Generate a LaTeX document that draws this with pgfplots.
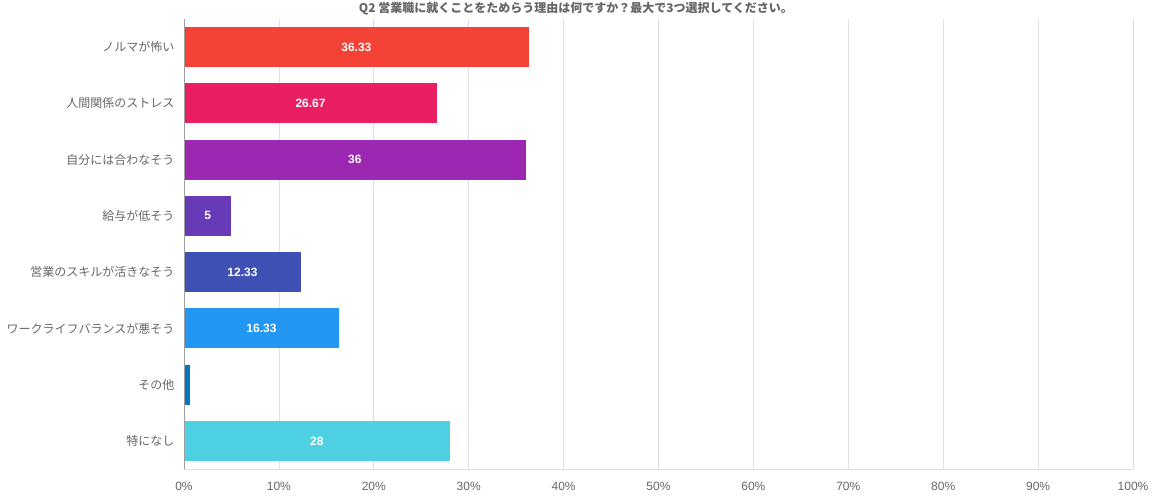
\documentclass[border=0pt]{standalone}
\usepackage{pgfplots}
\pgfplotsset{compat=1.18}
\usepackage{pgfplotstable}
\usepackage{fontspec}
\setmainfont{Liberation Sans}
\newfontfamily\jp{Noto Sans CJK JP}
\definecolor{c1}{HTML}{F44336}
\definecolor{c2}{HTML}{E91E63}
\definecolor{c3}{HTML}{9C27B0}
\definecolor{c4}{HTML}{673AB7}
\definecolor{c5}{HTML}{3F51B5}
\definecolor{c6}{HTML}{2196F3}
\definecolor{c7}{HTML}{0277BD}
\definecolor{c8}{HTML}{4DD0E1}
\definecolor{txt}{HTML}{666666}
\definecolor{gridc}{HTML}{E0E0E0}
\definecolor{axc}{HTML}{9E9E9E}
\pgfplotstableread{
i v
7 36.33
6 26.67
5 36
4 5
3 12.33
2 16.33
0 28
}\labels
\begin{document}
\begin{tikzpicture}
\useasboundingbox (-184pt,-31pt) rectangle (969pt,469pt);
\begin{axis}[
  at={(0,0)}, anchor=south west,
  scale only axis, width=949pt, height=450pt,
  xmin=0, xmax=100, ymin=-0.5, ymax=7.5,
  xbar, bar width=40pt, bar shift=0pt,
  xtick={0,10,...,100},
  xticklabel={\pgfmathprintnumber{\tick}\%},
  ytick={0,...,7},
  yticklabels={{\jp 特になし},{\jp その他},{\jp ワークライフバランスが悪そう},{\jp 営業のスキルが活きなそう},{\jp 給与が低そう},{\jp 自分には合わなそう},{\jp 人間関係のストレス},{\jp ノルマが怖い}},
  /pgf/number format/assume math mode=true,
  tick label style={font=\fontsize{12pt}{14pt}\selectfont, text=txt},
  yticklabel style={xshift=-6pt},
  xticklabel style={yshift=-10pt},
  major tick length=0pt,
  xmajorgrids, grid style={gridc, line width=0.8pt},
  axis line style={draw=none},
  axis x line*=bottom, axis y line*=left,
  clip=false,
]
\addplot[fill=c1, draw=none] coordinates {(36.33,7)};
\addplot[fill=c2, draw=none] coordinates {(26.67,6)};
\addplot[fill=c3, draw=none] coordinates {(36,5)};
\addplot[fill=c4, draw=none] coordinates {(5,4)};
\addplot[fill=c5, draw=none] coordinates {(12.33,3)};
\addplot[fill=c6, draw=none] coordinates {(16.33,2)};
\addplot[fill=c7, draw=none] coordinates {(0.67,1)};
\addplot[fill=c8, draw=none] coordinates {(28,0)};
\draw[gridc, line width=0.8pt] (axis cs:0,-0.5) -- (axis cs:100,-0.5);
\draw[axc, line width=0.8pt] (axis cs:0,-0.5) -- (axis cs:0,7.5);
\addplot[xbar=0pt, draw=none, fill=none, only marks, mark=none,
  nodes near coords, point meta=explicit,
  nodes near coords style={anchor=center, text=white, font=\fontsize{12pt}{14pt}\selectfont\bfseries},
  /pgf/number format/assume math mode=true]
  table[x expr=\thisrow{v}/2, y=i, meta=v] {\labels};
\node[font=\jp\bfseries\fontsize{12pt}{14pt}\selectfont, text=txt] at (rel axis cs:0.413,1.022) {Q2 営業職に就くことをためらう理由は何ですか？最大で3つ選択してください。};
\end{axis}
\end{tikzpicture}
\end{document}
